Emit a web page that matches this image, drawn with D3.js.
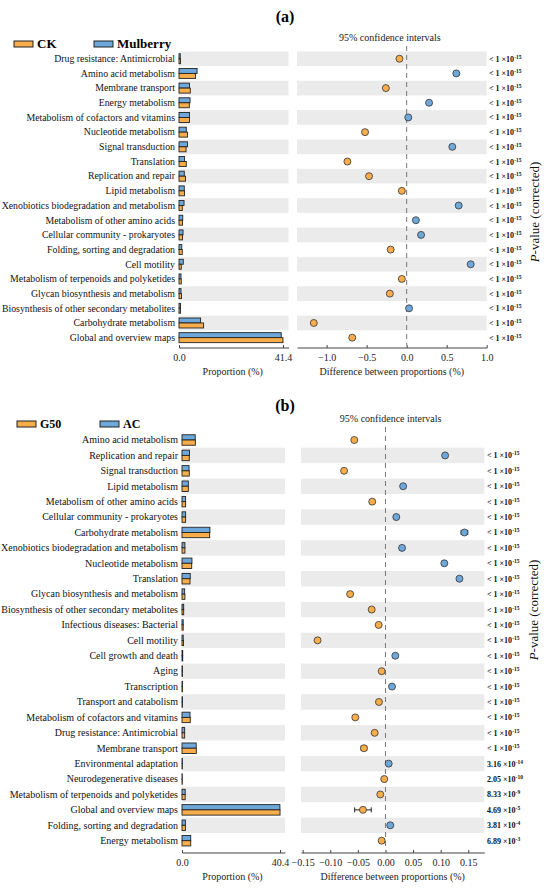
<!DOCTYPE html>
<html lang="en">
<head>
<meta charset="utf-8">
<title>STAMP extended error bar</title>
<style>
  body { margin: 0; background: #fff; }
  svg { display: block; font-family: "Liberation Serif", "DejaVu Serif", serif; }
</style>
</head>
<body>
<svg id="chart" width="550" height="889"></svg>
<script src="https://cdn.jsdelivr.net/npm/d3@7"></script>
<script>
// ---- panel (a) data: CK vs Mulberry ----
var categoriesA = ["Drug resistance: Antimicrobial", "Amino acid metabolism", "Membrane transport",
  "Energy metabolism", "Metabolism of cofactors and vitamins", "Nucleotide metabolism",
  "Signal transduction", "Translation", "Replication and repair", "Lipid metabolism",
  "Xenobiotics biodegradation and metabolism", "Metabolism of other amino acids",
  "Cellular community - prokaryotes", "Folding, sorting and degradation", "Cell motility",
  "Metabolism of terpenoids and polyketides", "Glycan biosynthesis and metabolism",
  "Biosynthesis of other secondary metabolites", "Carbohydrate metabolism", "Global and overview maps"];
var ckProp = [0.6, 6.6, 4.5, 4.1, 4.2, 3.4, 2.8, 2.9, 2.6, 2.2, 1.3, 1.4, 1.4, 1.3, 0.9, 0.9, 1.0, 0.6, 9.8, 41.4];
var mulberryProp = [0.5, 7.2, 4.2, 4.4, 4.2, 2.9, 3.4, 2.2, 2.1, 2.1, 2.0, 1.5, 1.6, 1.1, 1.7, 0.8, 0.8, 0.6, 8.6, 40.7];
var diffA = [-0.09, 0.62, -0.26, 0.28, 0.02, -0.52, 0.57, -0.74, -0.47, -0.06, 0.65, 0.115, 0.18, -0.20, 0.80, -0.06, -0.21, 0.03, -1.16, -0.68];
var ciA = [0.01, 0.01, 0.01, 0.01, 0.01, 0.01, 0.01, 0.01, 0.01, 0.01, 0.01, 0.01, 0.01, 0.01, 0.01, 0.01, 0.01, 0.01, 0.01, 0.01];
var pA = ["<15", "<15", "<15", "<15", "<15", "<15", "<15", "<15", "<15", "<15",
  "<15", "<15", "<15", "<15", "<15", "<15", "<15", "<15", "<15", "<15"];
var ticksLeftA = [0, 41.4];
var ticksRightA = [-1.0, -0.5, 0.0, 0.5, 1.0];

// ---- panel (b) data: G50 vs AC ----
var categoriesB = ["Amino acid metabolism", "Replication and repair", "Signal transduction", "Lipid metabolism",
  "Metabolism of other amino acids", "Cellular community - prokaryotes", "Carbohydrate metabolism",
  "Xenobiotics biodegradation and metabolism", "Nucleotide metabolism", "Translation",
  "Glycan biosynthesis and metabolism", "Biosynthesis of other secondary metabolites",
  "Infectious diseases: Bacterial", "Cell motility", "Cell growth and death", "Aging", "Transcription",
  "Transport and catabolism", "Metabolism of cofactors and vitamins", "Drug resistance: Antimicrobial",
  "Membrane transport", "Environmental adaptation", "Neurodegenerative diseases",
  "Metabolism of terpenoids and polyketides", "Global and overview maps",
  "Folding, sorting and degradation", "Energy metabolism"];
var g50Prop = [5.5, 3.0, 3.0, 2.6, 1.5, 1.5, 11.4, 1.2, 4.0, 3.3, 1.2, 0.7, 0.5, 0.6, 0.3, 0.2, 0.2, 0.2,
  3.4, 1.1, 5.9, 0.15, 0.12, 1.3, 40.4, 1.4, 3.6];
var acProp = [5.45, 3.1, 2.9, 2.6, 1.5, 1.5, 11.5, 1.2, 4.1, 3.4, 1.1, 0.7, 0.5, 0.5, 0.3, 0.2, 0.2, 0.2,
  3.3, 1.1, 5.85, 0.15, 0.12, 1.3, 40.35, 1.4, 3.6];
var diffB = [-0.0565, 0.108, -0.075, 0.032, -0.024, 0.0196, 0.143, 0.030, 0.1066, 0.134, -0.064, -0.025,
  -0.0123, -0.123, 0.0178, -0.0069, 0.0118, -0.0118, -0.0547, -0.0196, -0.039, 0.0058, -0.0022,
  -0.0094, -0.0408, 0.0087, -0.0069];
var ciB = [0.003, 0.001, 0.001, 0.001, 0.001, 0.001, 0.006, 0.001, 0.003, 0.001, 0.001, 0.001, 0.001,
  0.001, 0.001, 0.001, 0.001, 0.001, 0.003, 0.001, 0.005, 0.001, 0.001, 0.001, 0.015, 0.001, 0.004];
var pB = ["", "<15", "<15", "<15", "<15", "<15", "<15", "<15", "<15", "<15", "<15", "<15", "<15", "<15",
  "<15", "<15", "<15", "<15", "<15", "<15", "<15", "3.16|-14", "2.05|-10", "8.33|-9", "4.69|-5",
  "3.81|-4", "6.89|-3"];
var ticksLeftB = [0, 40.4];
var ticksRightB = [-0.15, -0.10, -0.05, 0.00, 0.05, 0.10, 0.15];

var orange = "#F7AD4B";
var blue = "#6EA8DA";
var grey = "#EBEBEB";
var ink = "#222";

var svg = d3.select("#chart");

function drawPanel(o) {
  var g = svg.append("g");

  // title
  g.append("text").attr("x", 285).attr("y", o.titleY)
    .attr("text-anchor", "middle").attr("font-weight", "bold").attr("font-size", "16px")
    .text(o.title);

  // legend
  o.legend.forEach(function(l) {
    g.append("rect").attr("x", l.x).attr("y", o.legendY - 6).attr("width", 19).attr("height", 6)
      .attr("fill", l.color).attr("stroke", ink).attr("stroke-width", 1);
    g.append("text").attr("x", l.x + 23).attr("y", o.legendY + 1)
      .attr("font-weight", "bold").attr("font-size", o.legendSize)
      .text(l.name);
  });

  var y = d3.scaleBand().domain(o.cats).range([o.top, o.bottom]).padding(0);
  var step = y.bandwidth();
  var xL = d3.scaleLinear().domain(o.leftDomain).range([o.leftX0, o.leftX1]);
  var xR = d3.scaleLinear().domain(o.rightDomain).range([o.rightX0, o.rightX1]);

  // grey bands
  var bands = o.cats.filter(function(d, i) { return i % 2 === o.greyParity; });
  g.selectAll(".bandL").data(bands).enter().append("rect")
    .attr("x", o.leftX0).attr("width", o.leftX1 - o.leftX0)
    .attr("y", function(d) { return y(d); }).attr("height", step).attr("fill", grey);
  g.selectAll(".bandR").data(bands).enter().append("rect")
    .attr("x", o.rightX0).attr("width", o.rightX1 - o.rightX0)
    .attr("y", function(d) { return y(d); }).attr("height", step).attr("fill", grey);

  // category labels
  g.selectAll(".lab").data(o.cats).enter().append("text")
    .attr("x", o.labelX).attr("y", function(d) { return y(d) + step / 2 + 3.3; })
    .attr("text-anchor", "end").attr("font-size", o.labelSize).attr("fill", "#111")
    .text(function(d) { return d; });

  // bars: second group (blue) on top, first group (orange) below
  var barH = step * 0.34;
  g.selectAll(".barB").data(o.cats).enter().append("rect")
    .attr("x", xL(0)).attr("y", function(d) { return y(d) + step / 2 - barH; })
    .attr("width", function(d, i) { return Math.max(0.3, xL(o.prop2[i]) - xL(0)); })
    .attr("height", barH).attr("fill", blue).attr("stroke", ink).attr("stroke-width", 0.9);
  g.selectAll(".barO").data(o.cats).enter().append("rect")
    .attr("x", xL(0)).attr("y", function(d) { return y(d) + step / 2; })
    .attr("width", function(d, i) { return Math.max(0.3, xL(o.prop1[i]) - xL(0)); })
    .attr("height", barH).attr("fill", orange).attr("stroke", ink).attr("stroke-width", 0.9);

  // zero dashed line
  g.append("line").attr("x1", xR(0)).attr("x2", xR(0))
    .attr("y1", o.dashTop).attr("y2", o.bottom)
    .attr("stroke", "#777").attr("stroke-width", 1).attr("stroke-dasharray", "5,4");

  g.append("text").attr("x", (o.rightX0 + o.rightX1) / 2 - 2).attr("y", o.ciY)
    .attr("text-anchor", "middle").attr("font-size", "10px").attr("fill", "#222")
    .text("95% confidence intervals");

  // error bars and dots
  var eb = g.selectAll(".eb").data(o.cats).enter().append("g");
  eb.append("line")
    .attr("x1", function(d, i) { return xR(o.diff[i] - o.ci[i]); })
    .attr("x2", function(d, i) { return xR(o.diff[i] + o.ci[i]); })
    .attr("y1", function(d) { return y(d) + step / 2; })
    .attr("y2", function(d) { return y(d) + step / 2; })
    .attr("stroke", ink).attr("stroke-width", 1);
  [-1, 1].forEach(function(s) {
    eb.append("line")
      .attr("x1", function(d, i) { return xR(o.diff[i] + s * o.ci[i]); })
      .attr("x2", function(d, i) { return xR(o.diff[i] + s * o.ci[i]); })
      .attr("y1", function(d) { return y(d) + step / 2 - 2.5; })
      .attr("y2", function(d) { return y(d) + step / 2 + 2.5; })
      .attr("stroke", ink).attr("stroke-width", 1);
  });
  g.selectAll(".dot").data(o.cats).enter().append("circle")
    .attr("cx", function(d, i) { return xR(o.diff[i]); })
    .attr("cy", function(d) { return y(d) + step / 2; })
    .attr("r", 3.5)
    .attr("fill", function(d, i) { return o.diff[i] > 0 ? blue : orange; })
    .attr("stroke", "#333").attr("stroke-width", 0.8);

  // p-values
  var pt = g.selectAll(".pv").data(o.cats).enter().append("text")
    .attr("x", o.pX).attr("y", function(d) { return y(d) + step / 2 + 3; })
    .attr("font-size", "8px").attr("font-weight", "bold").attr("fill", "#111");
  pt.each(function(d, i) {
    var v = o.pv[i];
    if (!v) return;
    var t = d3.select(this);
    var mant, ex;
    if (v.charAt(0) === "<") { mant = "< 1 \u00d710"; ex = "-" + v.slice(1); }
    else { var p = v.split("|"); mant = p[0] + " \u00d710"; ex = p[1]; }
    t.append("tspan").text(mant);
    t.append("tspan").attr("dy", -3).attr("font-size", "5.5px").text(ex);
  });

  g.append("text")
    .attr("transform", "translate(" + o.pLabelX + "," + o.pLabelY + ") rotate(-90)")
    .attr("text-anchor", "middle").attr("font-size", "13px").attr("fill", "#111")
    .call(function(t) {
      t.append("tspan").attr("font-style", "italic").text("P");
      t.append("tspan").text("-value (corrected)");
    });

  // axes
  var axL = d3.axisBottom(xL).tickValues(o.ticksLeft).tickSize(3).tickFormat(d3.format(".1f"));
  var gl = g.append("g").attr("transform", "translate(0," + o.axisY + ")").call(axL);
  var axR = d3.axisBottom(xR).tickValues(o.ticksRight).tickSize(3).tickFormat(d3.format(o.rightFmt));
  var gr = g.append("g").attr("transform", "translate(0," + o.axisY + ")").call(axR);
  [gl, gr].forEach(function(a) {
    a.select(".domain").attr("stroke", "#444").attr("d", function() {
      return d3.select(this).attr("d").replace(/V\d+(\.\d+)?/g, "");
    });
    a.selectAll(".tick line").attr("stroke", "#444");
    a.selectAll("text").attr("font-family", "Liberation Serif, serif").attr("font-size", "10px")
      .attr("fill", "#222").attr("dy", "0.95em");
  });

  g.append("text").attr("x", (o.leftX0 + o.leftX1) / 2 - 1).attr("y", o.axisY + 30)
    .attr("text-anchor", "middle").attr("font-size", "10px").attr("fill", "#222")
    .text("Proportion (%)");
  g.append("text").attr("x", (o.rightX0 + o.rightX1) / 2).attr("y", o.axisY + 30)
    .attr("text-anchor", "middle").attr("font-size", "10px").attr("fill", "#222")
    .text("Difference between proportions (%)");
}

drawPanel({
  title: "(a)", titleY: 22,
  legend: [{ x: 14, color: orange, name: "CK" }, { x: 94, color: blue, name: "Mulberry" }],
  legendY: 47, legendSize: "13px",
  cats: categoriesA, prop1: ckProp, prop2: mulberryProp, diff: diffA, ci: ciA, pv: pA,
  top: 51.4, bottom: 345, greyParity: 0,
  labelX: 175, labelSize: "9.8px",
  leftX0: 179, leftX1: 288.5, leftDomain: [0, 43.6], ticksLeft: ticksLeftA,
  rightX0: 297, rightX1: 486.7, rightDomain: [-1.37, 1.0], ticksRight: ticksRightA, rightFmt: ".1f",
  dashTop: 46, ciY: 41, pX: 489, pLabelX: 539, pLabelY: 212, axisY: 345
});

drawPanel({
  title: "(b)", titleY: 411,
  legend: [{ x: 17, color: orange, name: "G50" }, { x: 100, color: blue, name: "AC" }],
  legendY: 427, legendSize: "12px",
  cats: categoriesB, prop1: g50Prop, prop2: acProp, diff: diffB, ci: ciB, pv: pB,
  top: 432.3, bottom: 848.4, greyParity: 1,
  labelX: 178, labelSize: "10px",
  leftX0: 182, leftX1: 285, leftDomain: [0, 42.45], ticksLeft: ticksLeftB,
  rightX0: 301, rightX1: 484.3, rightDomain: [-0.153, 0.179], ticksRight: ticksRightB, rightFmt: ".2f",
  dashTop: 427, ciY: 422, pX: 487, pLabelX: 538, pLabelY: 610, axisY: 850
});
</script>
</body>
</html>
